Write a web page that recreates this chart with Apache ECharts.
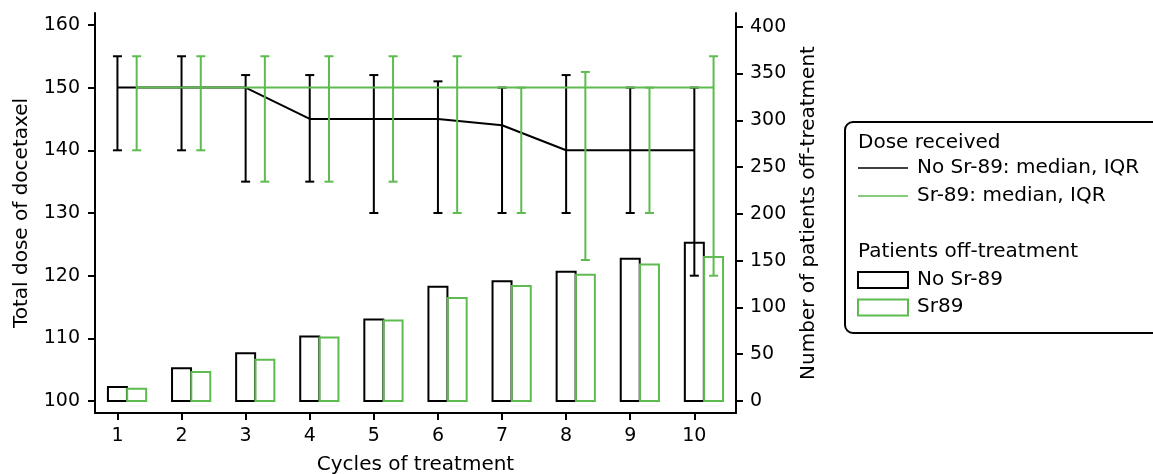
<!DOCTYPE html>
<html><head><meta charset="utf-8">
<script src="https://cdn.jsdelivr.net/npm/echarts@6/dist/echarts.min.js"></script>
<style>html,body{margin:0;padding:0;background:#fff}#c{width:1153px;height:474px}</style>
</head><body><div id="c"></div>
<script>
// ---- data ----
const cycles = [1, 2, 3, 4, 5, 6, 7, 8, 9, 10];
const noSrMedian = [150, 150, 150, 145, 145, 145, 144, 140, 140, 140];
const noSrQ1 = [140, 140, 135, 135, 130, 130, 130, 130, 130, 120];
const noSrQ3 = [155, 155, 152, 152, 152, 151, 150, 152, 150, 150];
const srMedian = [150, 150, 150, 150, 150, 150, 150, 150, 150, 150];
const srQ1 = [140, 140, 135, 135, 135, 130, 130, 122.5, 130, 120];
const srQ3 = [155, 155, 155, 155, 155, 155, 150, 152.5, 150, 155];
const noSrOff = [15, 35, 51, 69, 87, 122, 128, 138, 152, 169];
const srOff = [13, 31, 44, 68, 86, 110, 123, 135, 146, 154];
const leftTicks = [100, 110, 120, 130, 140, 150, 160];
const rightTicks = [0, 50, 100, 150, 200, 250, 300, 350, 400];

// ---- style ----
const BLACK = '#000000';
const GREEN = '#5dbb4f';
const FONT = 'DejaVu Sans';
const FS = 20;
const TFS = 19;
const SHIFT = 0.3; // second group drawn beside the first

const chart = echarts.init(document.getElementById('c'), null, {renderer: 'canvas'});

function barItem(off, color) {
  return function (params, api) {
    const x = api.value(0), v = api.value(1);
    const p0 = api.coord([x + off, 0]);
    const p1 = api.coord([x + off, v]);
    return {
      type: 'rect',
      shape: {x: p0[0] - 9.5, y: p1[1], width: 19, height: p0[1] - p1[1]},
      style: {fill: 'none', stroke: color, lineWidth: 2}
    };
  };
}
function errItem(off, color) {
  return function (params, api) {
    const x = api.value(0);
    const lo = api.coord([x + off, api.value(1)]);
    const hi = api.coord([x + off, api.value(2)]);
    const w = 4.5;
    const st = {stroke: color, lineWidth: 2};
    return {
      type: 'group',
      children: [
        {type: 'line', shape: {x1: lo[0], y1: lo[1], x2: hi[0], y2: hi[1]}, style: st},
        {type: 'line', shape: {x1: lo[0] - w, y1: lo[1], x2: lo[0] + w, y2: lo[1]}, style: st},
        {type: 'line', shape: {x1: hi[0] - w, y1: hi[1], x2: hi[0] + w, y2: hi[1]}, style: st}
      ]
    };
  };
}

const axisLine = {show: true, onZero: false, lineStyle: {color: BLACK, width: 2}};
const axisTick = (vals) => ({show: true, customValues: vals, length: 7, lineStyle: {color: BLACK, width: 2}});
const label = (vals, m) => ({customValues: vals, color: BLACK, fontFamily: FONT, fontSize: TFS, margin: m});
const nameStyle = {color: BLACK, fontFamily: FONT, fontSize: FS};

const legendX = 858, textX = 917;
const fnt = FS + 'px "' + FONT + '"';
const graphics = [
  {type: 'rect', shape: {x: 845, y: 122, width: 320, height: 211, r: 8}, style: {fill: 'none', stroke: BLACK, lineWidth: 2}},
  {type: 'text', x: legendX, y: 143, style: {text: 'Dose received', fill: BLACK, font: fnt, verticalAlign: 'middle'}},
  {type: 'line', shape: {x1: legendX, y1: 168, x2: 908, y2: 168}, style: {stroke: BLACK, lineWidth: 1.5}},
  {type: 'text', x: textX, y: 168, style: {text: 'No Sr-89: median, IQR', fill: BLACK, font: fnt, verticalAlign: 'middle'}},
  {type: 'line', shape: {x1: legendX, y1: 196, x2: 908, y2: 196}, style: {stroke: GREEN, lineWidth: 1.5}},
  {type: 'text', x: textX, y: 196, style: {text: 'Sr-89: median, IQR', fill: BLACK, font: fnt, verticalAlign: 'middle'}},
  {type: 'text', x: legendX, y: 252, style: {text: 'Patients off-treatment', fill: BLACK, font: fnt, verticalAlign: 'middle'}},
  {type: 'rect', shape: {x: legendX, y: 272, width: 50, height: 16}, style: {fill: 'none', stroke: BLACK, lineWidth: 2}},
  {type: 'text', x: textX, y: 280, style: {text: 'No Sr-89', fill: BLACK, font: fnt, verticalAlign: 'middle'}},
  {type: 'rect', shape: {x: legendX, y: 299.5, width: 50, height: 16}, style: {fill: 'none', stroke: GREEN, lineWidth: 2}},
  {type: 'text', x: textX, y: 307, style: {text: 'Sr89', fill: BLACK, font: fnt, verticalAlign: 'middle'}}
];

const option = {
  animation: false,
  backgroundColor: '#ffffff',
  grid: {left: 95, right: 417, top: 13, bottom: 61, containLabel: false, outerBoundsMode: 'none'},
  xAxis: {
    type: 'value', min: 0.65, max: 10.65,
    name: 'Cycles of treatment', nameLocation: 'middle', nameGap: 42, nameTextStyle: nameStyle,
    axisLine: axisLine, axisTick: axisTick(cycles), axisLabel: label(cycles, 14), splitLine: {show: false}
  },
  yAxis: [
    {
      type: 'value', min: 98.1, max: 161.9, position: 'left',
      name: 'Total dose of docetaxel', nameLocation: 'middle', nameGap: 63, nameTextStyle: nameStyle,
      axisLine: axisLine, axisTick: axisTick(leftTicks), axisLabel: label(leftTicks, 15), splitLine: {show: false}
    },
    {
      type: 'value', min: -12.8, max: 414.6, position: 'right',
      name: 'Number of patients off-treatment', nameLocation: 'middle', nameGap: 63, nameTextStyle: nameStyle,
      axisLine: axisLine, axisTick: axisTick(rightTicks), axisLabel: label(rightTicks, 14), splitLine: {show: false}
    }
  ],
  graphic: graphics,
  series: [
    {type: 'custom', name: 'No Sr-89 off', yAxisIndex: 1, renderItem: barItem(0, BLACK),
      data: cycles.map((c, i) => [c, noSrOff[i]]), encode: {x: 0, y: 1}, z: 1},
    {type: 'custom', name: 'Sr89 off', yAxisIndex: 1, renderItem: barItem(SHIFT, GREEN),
      data: cycles.map((c, i) => [c, srOff[i]]), encode: {x: 0, y: 1}, z: 1},
    {type: 'line', name: 'No Sr-89 median', yAxisIndex: 0, symbol: 'none',
      lineStyle: {color: BLACK, width: 2}, data: cycles.map((c, i) => [c, noSrMedian[i]]), z: 2},
    {type: 'custom', name: 'No Sr-89 IQR', yAxisIndex: 0, renderItem: errItem(0, BLACK),
      data: cycles.map((c, i) => [c, noSrQ1[i], noSrQ3[i]]), encode: {x: 0, y: [1, 2]}, z: 2},
    {type: 'line', name: 'Sr-89 median', yAxisIndex: 0, symbol: 'none',
      lineStyle: {color: GREEN, width: 2}, data: cycles.map((c, i) => [c + SHIFT, srMedian[i]]), z: 3},
    {type: 'custom', name: 'Sr-89 IQR', yAxisIndex: 0, renderItem: errItem(SHIFT, GREEN),
      data: cycles.map((c, i) => [c, srQ1[i], srQ3[i]]), encode: {x: 0, y: [1, 2]}, z: 3}
  ]
};
chart.setOption(option);
</script>
</body></html>
